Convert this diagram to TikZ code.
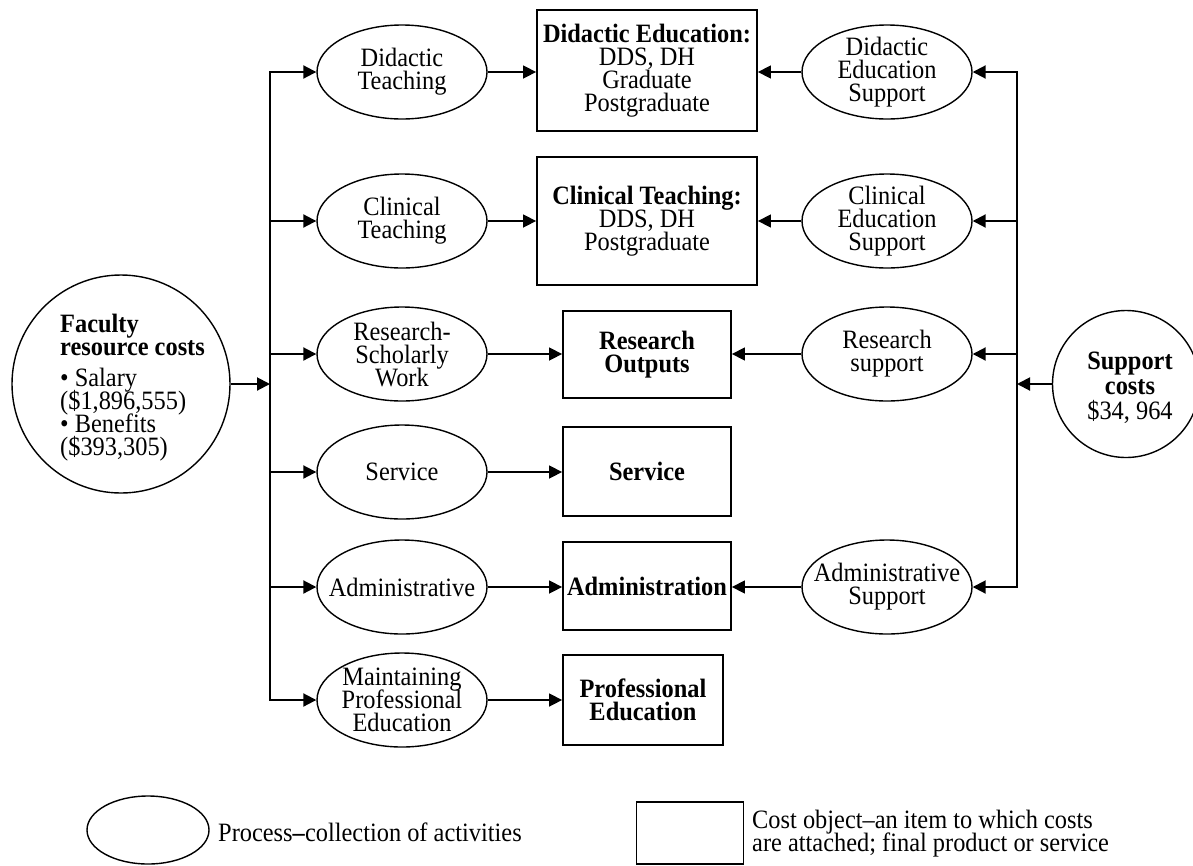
\documentclass[tikz,border=0pt]{standalone}
\usepackage{fontspec}
\setmainfont{Liberation Serif}[FakeStretch=0.92]
\usetikzlibrary{shapes.geometric,arrows.meta}
\newcommand\diagfont{\fontsize{26.5}{23}\selectfont\lineskiplimit=-30pt\relax\lineskip=0pt\relax}
\begin{document}
\begin{tikzpicture}[x=1pt,y=-1pt,
  txt/.style={font=\diagfont, align=center, inner sep=0pt},
  proc/.style={txt, draw, ellipse, line width=1.4pt, minimum width=170pt, minimum height=94pt, inner xsep=-25pt, inner ysep=-15pt},
  cobj/.style={txt, draw, rectangle, line width=1.8pt},
  bar/.style={line width=2.8pt, line cap=rect},
  feed/.style={line width=2pt, -{Triangle[length=13pt,width=13pt]}},
  flow/.style={line width=1.5pt, -{Triangle[length=13pt,width=13pt]}},
]
\useasboundingbox (0,0) rectangle (1193,865);

% source circles
\node[draw, circle, line width=1.4pt, minimum size=218pt, inner sep=0pt] (fac) at (121,384) {};
\node[txt, align=left, anchor=north west] (factext) at (60,314)
  {\textbf{Faculty}\\\textbf{resource costs}\\[8pt]\textbullet\ Salary\\(\$1,896,555)\\\textbullet\ Benefits\\(\$393,305)};
\node[draw, circle, line width=1.4pt, minimum size=147pt, inner sep=0pt] (sup) at (1126,384) {};
\node[txt] (suptext) at (1130,388)
  {\textbf{Support}\\[2pt]\textbf{costs}\\[2pt]\$34, 964};

% processes (left)
\node[proc] (L1) at (402,72)  {Didactic\\Teaching};
\node[proc] (L2) at (402,221) {Clinical\\Teaching};
\node[proc] (L3) at (402,354) {Research-\\Scholarly\\Work};
\node[proc] (L4) at (402,472) {Service};
\node[proc] (L5) at (402,587) {Administrative};
\node[proc] (L6) at (402,700) {Maintaining\\Professional\\Education};

% support processes (right)
\node[proc] (R1) at (887,72)  {Didactic\\Education\\Support};
\node[proc] (R2) at (887,221) {Clinical\\Education\\Support};
\node[proc] (R3) at (887,354) {Research\\support};
\node[proc] (R5) at (887,587) {Administrative\\Support};

% cost objects
\node[cobj, minimum width=220pt, minimum height=121pt] (B1) at (647,70.5)
  {\textbf{Didactic Education:}\\DDS, DH\\Graduate\\Postgraduate};
\node[cobj, minimum width=220pt, minimum height=128pt] (B2) at (647,221)
  {\textbf{Clinical Teaching:}\\DDS, DH\\Postgraduate};
\node[cobj, minimum width=168pt, minimum height=87pt] (B3) at (647,354.5)
  {\textbf{Research}\\\textbf{Outputs}};
\node[cobj, minimum width=168pt, minimum height=89pt] (B4) at (647,471.5)
  {\textbf{Service}};
\node[cobj, minimum width=168pt, minimum height=88pt] (B5) at (647,586)
  {\textbf{Administration}};
\node[cobj, minimum width=160pt, minimum height=90pt] (B6) at (643,700)
  {\textbf{Professional}\\\textbf{Education}};

% bars
\coordinate (lt) at (270,72);
\coordinate (lb) at (270,700);
\coordinate (rt) at (1017,72);
\coordinate (rb) at (1017,587);
\draw[bar] (lt) -- (lb);
\draw[bar] (rt) -- (rb);

% feeds from faculty
\draw[feed] (fac.east) -- (fac.east -| lt);
\foreach \n in {L1,L2,L3,L4,L5,L6}
  \draw[feed] (\n.west -| lt) -- (\n.west);

% feeds from support
\draw[feed] (sup.west) -- (sup.west -| rt);
\foreach \n in {R1,R2,R3,R5}
  \draw[feed] (\n.east -| rt) -- (\n.east);

% flows to cost objects
\draw[flow] (L1.east) -- (L1.east -| B1.west);
\draw[flow] (L2.east) -- (L2.east -| B2.west);
\draw[flow] (L3.east) -- (L3.east -| B3.west);
\draw[flow] (L4.east) -- (L4.east -| B4.west);
\draw[flow] (L5.east) -- (L5.east -| B5.west);
\draw[flow] (L6.east) -- (L6.east -| B6.west);
\draw[flow] (R1.west) -- (R1.west -| B1.east);
\draw[flow] (R2.west) -- (R2.west -| B2.east);
\draw[flow] (R3.west) -- (R3.west -| B3.east);
\draw[flow] (R5.west) -- (R5.west -| B5.east);

% legend
\node[draw, ellipse, line width=1.4pt, minimum width=122pt, minimum height=68pt, inner sep=0pt] (legP) at (148,830) {};
\node[txt, anchor=west] (legPt) at (218,832) {Process\textbf{--}collection of activities};
\node[draw, rectangle, line width=1.4pt, minimum width=107pt, minimum height=62pt, inner sep=0pt] (legC) at (690,833) {};
\node[txt, align=left, anchor=west] (legCt) at (752,834) {Cost object--an item to which costs\\are attached; final product or service};
\end{tikzpicture}
\end{document}
